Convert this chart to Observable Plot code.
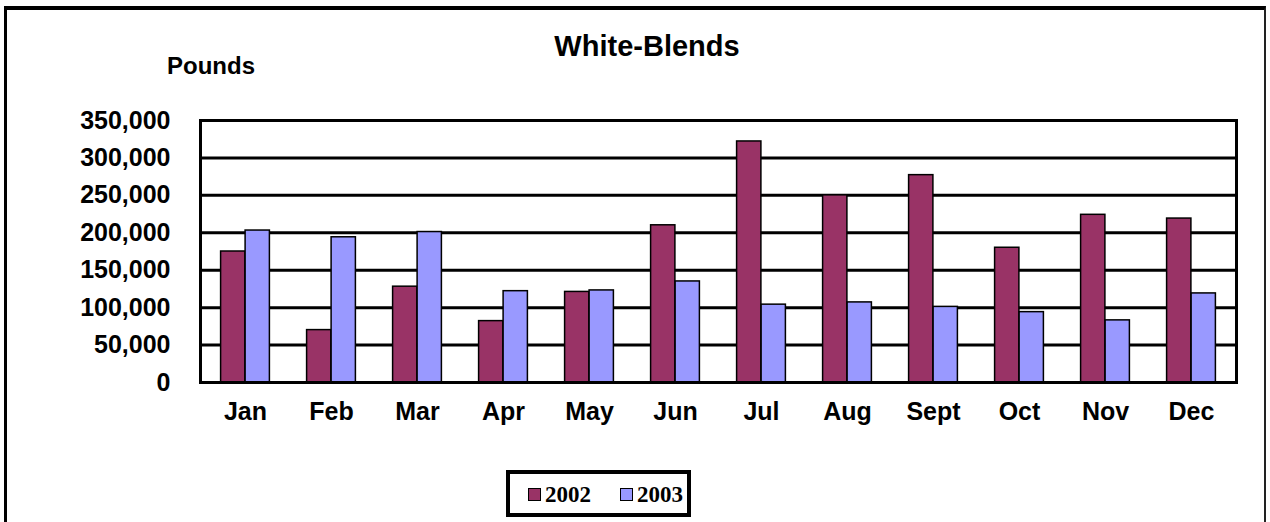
<!DOCTYPE html>
<html>
<head>
<meta charset="utf-8">
<script src="https://cdn.jsdelivr.net/npm/d3@7"></script>
<script src="https://cdn.jsdelivr.net/npm/@observablehq/plot@0.6"></script>
<style>
  html, body { margin: 0; padding: 0; background: #fff; }
  #wrap { position: relative; width: 1270px; height: 522px; overflow: hidden; background: #fff; }
  #border { position: absolute; left: 4px; top: 6px; width: 1262px; height: 600px;
            border-left: 3px solid #000; border-top: 4px solid #000; border-right: 2px solid #222; box-sizing: border-box; }
  #title { position: absolute; left: 647px; top: 32px; transform: translateX(-50%);
           font: bold 29px "Liberation Sans", Arial, sans-serif; line-height: 1; white-space: nowrap; }
  #ylabel { position: absolute; left: 167px; top: 54px;
           font: bold 24px "Liberation Sans", Arial, sans-serif; line-height: 1; white-space: nowrap; }
  #legend { position: absolute; left: 506px; top: 470px; width: 185px; height: 47px; box-sizing: border-box;
            border: 4px solid #000; background: #fff; display: flex; align-items: center; justify-content: flex-start; gap: 29px;
            padding-left: 18px; font: bold 23px "Liberation Serif", "Times New Roman", serif; line-height: 1; padding-top: 1px; }
  .item { display: flex; align-items: center; gap: 4px; }
  .sw { width: 13px; height: 13px; border: 1px solid #000; box-sizing: border-box; }
  svg { position: absolute; left: 0; top: 0; }
</style>
</head>
<body>
<div id="wrap">
  <div id="border"></div>
  <div id="title"></div>
  <div id="ylabel"></div>
  <div id="legend"></div>
</div>
<script>
const titleText = "White-Blends";
const yLabel = "Pounds";
const months = ["Jan","Feb","Mar","Apr","May","Jun","Jul","Aug","Sept","Oct","Nov","Dec"];
const series = ["2002", "2003"];
const colors = ["#993366", "#9999FF"];
const values2002 = [175000, 70000, 128000, 82000, 121000, 210000, 322000, 250000, 277000, 180000, 224000, 219000];
const values2003 = [203000, 194000, 201000, 122000, 123000, 135000, 104000, 107000, 101000, 94000, 83000, 119000];
const yTicks = [0, 50000, 100000, 150000, 200000, 250000, 300000, 350000];

const d2002 = months.map((m, i) => ({month: m, value: values2002[i]}));
const d2003 = months.map((m, i) => ({month: m, value: values2003[i]}));

const outer = 18.6, inner = 43.1;

const chart = Plot.plot({
  width: 1270,
  height: 522,
  marginLeft: 200,
  marginRight: 34,
  marginTop: 120,
  marginBottom: 140,
  style: {fontFamily: "'Liberation Sans', Arial, sans-serif", fontSize: "25px", fontWeight: "bold", color: "#000", background: "transparent", overflow: "visible"},
  x: {domain: months, padding: 0, label: null},
  y: {domain: [0, 350000], label: null},
  marks: [
    Plot.ruleY(yTicks, {stroke: "#000", strokeWidth: 3}),
    Plot.barY(d2002, {x: "month", y: "value", fill: colors[0], stroke: "#000", strokeWidth: 1.5, insetLeft: outer, insetRight: inner}),
    Plot.barY(d2003, {x: "month", y: "value", fill: colors[1], stroke: "#000", strokeWidth: 1.5, insetLeft: inner, insetRight: outer}),
    Plot.frame({stroke: "#000", strokeWidth: 3}),
    Plot.axisY({ticks: yTicks, tickFormat: d3.format(","), tickSize: 0, tickPadding: 30, label: null}),
    Plot.axisX({tickSize: 0, tickPadding: 20, label: null})
  ]
});
document.getElementById("wrap").insertBefore(chart, document.getElementById("title"));
document.getElementById("title").textContent = titleText;
document.getElementById("ylabel").textContent = yLabel;
const legend = document.getElementById("legend");
series.forEach((s, i) => {
  const item = document.createElement("div");
  item.className = "item";
  const sw = document.createElement("div");
  sw.className = "sw";
  sw.style.background = colors[i];
  const t = document.createElement("span");
  t.textContent = s;
  item.appendChild(sw);
  item.appendChild(t);
  legend.appendChild(item);
});
</script>
</body>
</html>
